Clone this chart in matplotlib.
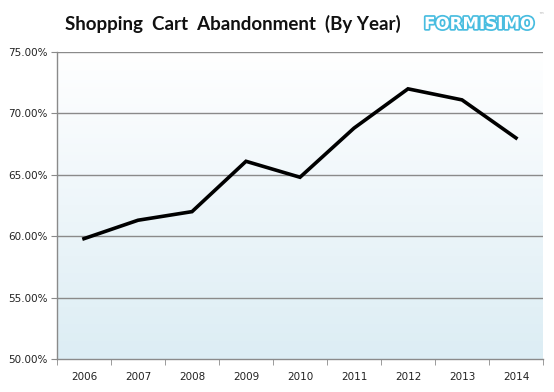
import numpy as np
import matplotlib.pyplot as plt
import matplotlib.patheffects as pe
from matplotlib.colors import LinearSegmentedColormap
from matplotlib.ticker import FixedLocator

# Данные графика
years = ['2006', '2007', '2008', '2009', '2010', '2011', '2012', '2013', '2014']
abandonment = [59.8, 61.3, 62.0, 66.1, 64.8, 68.8, 72.0, 71.1, 68.0]
y_ticks = [50, 55, 60, 65, 70, 75]

fig = plt.figure(figsize=(5.54, 3.92), dpi=100)
ax = fig.add_axes([57 / 554, 33 / 392, 486 / 554, 307 / 392])

x = np.arange(len(years))
ax.set_xlim(-0.5, len(years) - 0.5)
ax.set_ylim(50, 75)

# Фон с градиентом: белый сверху, голубой снизу
cmap = LinearSegmentedColormap.from_list('bg', ['#ffffff', '#eef6fa', '#dcedf4'])
grad = np.linspace(0, 1, 256).reshape(-1, 1)
ax.imshow(grad, cmap=cmap, aspect='auto', extent=(-0.5, len(years) - 0.5, 50, 75),
          zorder=0, interpolation='bicubic')

# Сетка
for v in y_ticks[1:]:
    ax.axhline(v, color='#8a8a8a', lw=1.0, zorder=1)

ax.plot(x, abandonment, color='black', lw=2.6, zorder=3, solid_joinstyle='miter')

# Оси
for s in ['top', 'right']:
    ax.spines[s].set_visible(False)
for s in ['left', 'bottom']:
    ax.spines[s].set_color('#8a8a8a')
    ax.spines[s].set_linewidth(1.0)

ax.set_yticks(y_ticks)
ax.set_yticklabels(['%.2f%%' % v for v in y_ticks])
ax.set_xticks(x)
ax.set_xticklabels(years)
ax.xaxis.set_minor_locator(FixedLocator(np.arange(-0.5, len(years), 1.0)))
ax.tick_params(axis='x', which='major', length=0, pad=9, labelsize=7.5, labelcolor='#222222')
ax.tick_params(axis='x', which='minor', length=4, color='#8a8a8a', direction='out')
ax.tick_params(axis='y', length=4, color='#8a8a8a', direction='out', pad=3,
               labelsize=7.5, labelcolor='#222222')

# Заголовок
fig.text(233 / 554, 1 - 24 / 392, 'Shopping  Cart  Abandonment  (By Year)',
         ha='center', va='center', fontsize=13.5, fontweight='bold',
         family='Lato', color='#111111')

# Логотип
fig.text(479 / 554, 1 - 24 / 392, 'FORMISIMO', ha='center', va='center',
         fontsize=12, fontweight='bold', family='DejaVu Sans', color='white',
         path_effects=[pe.withStroke(linewidth=2.5, foreground='#49bde0')])
fig.text(541 / 554, 1 - 15 / 392, '™', ha='center', va='center', fontsize=4,
         color='#aaaaaa')

fig.savefig('out.png', dpi=100)
